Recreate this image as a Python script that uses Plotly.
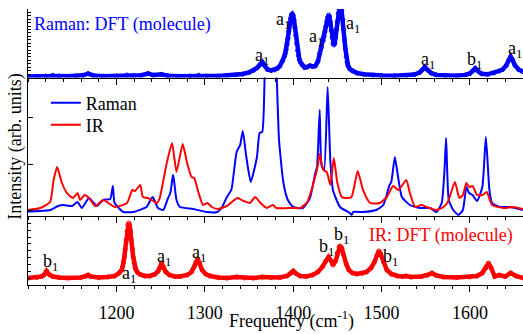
import plotly.graph_objects as go

# ---------------- data ----------------
# Top panel: Raman DFT (molecule)
raman_dft_freq = [1100, 1110, 1120, 1128, 1135, 1145, 1155, 1162, 1168, 1174, 1185, 1200, 1212, 1220, 1228,
                  1236, 1242, 1251, 1258, 1270, 1283, 1293, 1302, 1315, 1325, 1335, 1343, 1350, 1355, 1359,
                  1362, 1365, 1368, 1371, 1375, 1379, 1382, 1385, 1388, 1390, 1391, 1392, 1393, 1394, 1395,
                  1396, 1397, 1398, 1399, 1400, 1401, 1402, 1403, 1404, 1405, 1406, 1407, 1408, 1410, 1413,
                  1416, 1419, 1422, 1425, 1428, 1430, 1432, 1434, 1435, 1436, 1437, 1438, 1439, 1440, 1441,
                  1442, 1443, 1444, 1445, 1446, 1447, 1448, 1449, 1450, 1451, 1452, 1453, 1454, 1455, 1456,
                  1457, 1458, 1459, 1460, 1461, 1462, 1464, 1467, 1472, 1480, 1490, 1500, 1515, 1528, 1537,
                  1543, 1546, 1549, 1552, 1556, 1562, 1572, 1585, 1595, 1600, 1603, 1606, 1609, 1613, 1620,
                  1627, 1633, 1637, 1641, 1644, 1646, 1648, 1651, 1655, 1660]
raman_dft_int = [1.0, 1.2, 1.5, 2.2, 1.4, 1.2, 1.4, 2.2, 3.8, 2.0, 1.3, 1.5, 2.5, 1.6, 2.2,
                 4.0, 2.4, 3.2, 1.8, 1.3, 1.5, 2.3, 1.4, 1.5, 2.0, 2.6, 3.5, 5.0, 7.0, 9.5,
                 12.5, 15.5, 11.5, 8.0, 7.0, 7.5, 9.0, 11.5, 16.5, 21, 24, 28, 33, 39, 46,
                 53, 59, 62.5, 63.5, 62, 57, 50, 42, 34, 27, 22, 18, 15.5, 12.5, 10.0,
                 10.5, 11.8, 11.0, 11.5, 16, 24, 30, 37, 41, 46, 51, 56, 60, 62.5, 61,
                 55, 47, 40, 34, 32.5, 34, 40, 48, 56, 64, 70, 74, 74, 67, 58,
                 48, 38, 29, 21, 15.5, 12, 8.5, 6.5, 4.5, 3.2, 2.4, 1.9, 1.7, 2.0, 3.0,
                 5.0, 7.5, 10.5, 7.5, 4.5, 2.6, 1.8, 1.8, 2.6, 4.0, 6.5, 9.2, 6.5, 3.8, 3.2,
                 4.5, 6.5, 8.0, 12, 17.5, 20.8, 18, 12, 8.0, 5.8]

# Middle panel: experimental Raman
raman_freq = [1100, 1125, 1134, 1140, 1150, 1156, 1161, 1169, 1178, 1185, 1193, 1196, 1198, 1208, 1219,
              1234, 1241, 1247, 1253, 1258, 1261, 1263, 1264, 1265, 1268, 1272, 1287, 1302, 1314, 1319,
              1325, 1330, 1336, 1340, 1343, 1347, 1352, 1359, 1362, 1365, 1368, 1372, 1378, 1381, 1384,
              1389, 1394, 1400, 1411, 1419, 1425, 1427, 1430, 1432, 1435, 1439, 1442, 1445, 1453, 1464,
              1466, 1468, 1479, 1494, 1502, 1509, 1511, 1515, 1518, 1523, 1532, 1543, 1555, 1562, 1568,
              1571, 1573, 1576, 1581, 1587, 1592, 1596, 1599, 1603, 1608, 1614, 1618, 1622, 1625, 1634,
              1645, 1660]
raman_int = [-0.5, 1, 5, 6, 5, 9, 3, 13, 5, 11, 12, 25, 8, -1, -1,
             4, 14, 3, 1, 12, 18, 30, 36, 32, 11, 4, 2, -1, -1, 3,
             14, 21, 59, 66, 80, 54, 29, 54, 78, 79, 145, 200, 200, 145, 71,
             28, 11, 4, 3, 13, 38, 44, 101, 46, 41, 124, 51, 21, 4, -2,
             -4, -1, -1, 1, 6, 26, 29, 54, 38, 14, 6, 3, 3, -1, 8,
             38, 73, 11, 1, -4, 1, 24, 18, 16, 10, 24, 74, 21, 8, 4,
             4, 1]

# Middle panel: experimental IR
ir_freq = [1100, 1114, 1125, 1129, 1133, 1138, 1144, 1151, 1156, 1159, 1164, 1169, 1176, 1185, 1191,
           1198, 1212, 1218, 1221, 1227, 1230, 1236, 1246, 1249, 1257, 1263, 1268, 1275, 1280, 1285,
           1288, 1293, 1298, 1303, 1308, 1315, 1325, 1337, 1344, 1351, 1357, 1362, 1370, 1377, 1381,
           1400, 1408, 1416, 1423, 1428, 1430, 1434, 1438, 1442, 1446, 1450, 1455, 1460, 1466, 1473,
           1479, 1487, 1498, 1506, 1513, 1519, 1528, 1532, 1538, 1545, 1551, 1562, 1570, 1575, 1583,
           1588, 1592, 1596, 1599, 1603, 1608, 1614, 1619, 1625, 1638, 1649, 1660]
ir_int = [1, 3, 9, 31, 44, 29, 18, 13, 18, 11, 16, 13, 5, 11, 8,
          4, 8, 21, 20, 26, 14, 13, 8, 13, 48, 68, 39, 67, 48, 34,
          33, 18, 6, 8, 4, 2, 5, 13, 10, 8, 14, 9, 3, 6, 3,
          3, 3, 9, 28, 46, 57, 41, 39, 26, 53, 28, 14, 13, 14, 40,
          21, 8, 8, 14, 25, 21, 31, 18, 4, 6, 4, 1, 4, 9, 29,
          13, 16, 28, 24, 25, 16, 16, 19, 6, 3, 4, 2]

# Bottom panel: IR DFT (molecule)
ir_dft_freq = [1100, 1110, 1115, 1118, 1121, 1124, 1128, 1135, 1145, 1160, 1165, 1168, 1171, 1180, 1190,
               1198, 1203, 1206, 1207, 1208, 1209, 1210, 1211, 1212, 1213, 1214, 1215, 1216, 1217, 1218,
               1219, 1220, 1221, 1222, 1224, 1227, 1232, 1238, 1243, 1247, 1249, 1251, 1253, 1256, 1260,
               1266, 1272, 1280, 1285, 1288, 1290, 1292, 1294, 1297, 1301, 1306, 1315, 1325, 1336, 1345,
               1355, 1365, 1375, 1385, 1393, 1397, 1400, 1403, 1408, 1415, 1422, 1428, 1433, 1437, 1440,
               1443, 1445, 1448, 1450, 1452, 1453, 1455, 1457, 1460, 1463, 1467, 1472, 1478, 1483, 1488,
               1492, 1495, 1497, 1499, 1502, 1506, 1511, 1518, 1524, 1528, 1533, 1545, 1552, 1557, 1562,
               1570, 1585, 1600, 1608, 1614, 1618, 1621, 1624, 1628, 1633, 1640, 1646, 1652, 1660]
ir_dft_int = [7, 7.5, 8.5, 10, 14, 10.5, 8.5, 7.5, 7, 7.5, 8.5, 10, 8.5, 7.5, 8,
              9, 12, 15, 18, 22, 28, 36, 45, 54, 60, 62, 60, 54, 45, 36,
              28, 22, 18, 15.5, 12.5, 10.5, 9, 9, 10.5, 13.5, 17, 22, 18, 13, 10,
              8.5, 8.5, 10, 13, 18, 23, 26, 22, 15, 11, 9, 7.5, 7, 8, 7,
              7, 8, 7.2, 7.5, 9, 11.5, 14, 11.5, 9, 8.5, 10, 13, 18, 24, 28,
              24, 20, 24, 32, 38, 39, 37, 30, 21, 15, 12, 11, 11.5, 13, 17,
              23, 30, 34, 31, 23, 15, 11, 9, 8.5, 9, 8, 8.5, 10, 12, 9.5,
              8, 7.5, 8, 9, 12, 17, 22, 17, 8.5, 10, 8.5, 12, 9, 7]

tick_values = [1200, 1300, 1400, 1500, 1600]

# mode labels: (text, frequency, intensity)
top_labels = [("a<sub>1</sub>", 1365, 21.5), ("a<sub>1</sub>", 1388.5, 57.5), ("a<sub>1</sub>", 1426, 40),
              ("a<sub>1</sub>", 1468, 53), ("a<sub>1</sub>", 1552.5, 17.5), ("b<sub>1</sub>", 1605.5, 17.5),
              ("a<sub>1</sub>", 1651, 28)]
bottom_labels = [("b<sub>1</sub>", 1125.5, 22.5), ("a<sub>1</sub>", 1213.7, 10.5), ("a<sub>1</sub>", 1253.3, 27.5),
                 ("a<sub>1</sub>", 1294, 31), ("b<sub>1</sub>", 1437.7, 37.5), ("b<sub>1</sub>", 1455.2, 49.5),
                 ("b<sub>1</sub>", 1510.6, 27.5)]

# ---------------- figure ----------------
FONT = "Liberation Serif, Times New Roman, serif"
BLUE = "#0000FF"
RED = "#FF0000"

fig = go.Figure()

fig.add_trace(go.Scatter(x=raman_dft_freq, y=raman_dft_int, xaxis="x3", yaxis="y3",
                         mode="lines+markers", line=dict(color=BLUE, width=4.5),
                         marker=dict(symbol="circle-open", size=4, color=BLUE, line=dict(width=1, color=BLUE)),
                         showlegend=False))
fig.add_trace(go.Scatter(x=raman_freq, y=raman_int, xaxis="x2", yaxis="y2", name="Raman", legend="legend",
                         mode="lines", line=dict(color=BLUE, width=2, shape="spline", smoothing=0.5)))
fig.add_trace(go.Scatter(x=ir_freq, y=ir_int, xaxis="x2", yaxis="y2", name="IR", legend="legend2",
                         mode="lines", line=dict(color=RED, width=2, shape="spline", smoothing=0.5)))
fig.add_trace(go.Scatter(x=ir_dft_freq, y=ir_dft_int, xaxis="x", yaxis="y",
                         mode="lines+markers", line=dict(color=RED, width=4.5),
                         marker=dict(symbol="circle-open", size=4, color=RED, line=dict(width=1, color=RED)),
                         showlegend=False))

xcommon = dict(range=[1100, 1660], tickmode="array", tickvals=tick_values, ticklen=6, tickwidth=1,
               tickcolor="black", showline=True, linecolor="black", linewidth=1, showgrid=False,
               zeroline=False, minor=dict(tick0=1100, dtick=20, ticklen=3, tickcolor="black", showgrid=False))

legend_common = dict(xanchor="left", yanchor="middle", bgcolor="rgba(0,0,0,0)",
                     font=dict(family=FONT, size=18), itemwidth=30, borderwidth=0)

fig.update_layout(
    width=523, height=334,
    margin=dict(l=28, r=0, t=9, b=49),
    paper_bgcolor="white", plot_bgcolor="white",
    font=dict(family=FONT, size=18, color="black"),
    xaxis=dict(xcommon, anchor="y", ticks="outside", minor_ticks="outside", showticklabels=True,
               ticklabelstandoff=5, tickfont=dict(family=FONT, size=18, color="black")),
    xaxis2=dict(xcommon, anchor="y2", ticks="outside", minor_ticks="outside", showticklabels=False),
    xaxis3=dict(xcommon, anchor="y3", ticks="outside", minor_ticks="outside", showticklabels=False),
    xaxis4=dict(xcommon, anchor="y3", overlaying="x3", side="top", ticks="inside", minor_ticks="inside",
                showticklabels=False),
    yaxis=dict(domain=[0, 0.2482], range=[0, 68.5], tick0=0, dtick=6.85, ticks="inside", ticklen=3,
               tickcolor="black", showticklabels=False, showline=True, linecolor="black", linewidth=1,
               showgrid=False, zeroline=False),
    yaxis2=dict(domain=[0.2482, 0.7518], range=[-5.5, 133.5], tickmode="array", tickvals=[0, 47, 94],
                ticks="inside", ticklen=5, tickcolor="black", showticklabels=False, showline=True,
                linecolor="black", linewidth=1, showgrid=False, zeroline=False),
    yaxis3=dict(domain=[0.7518, 1], range=[0, 68.5], tick0=0, dtick=3.425, ticks="inside", ticklen=3,
                tickcolor="black", showticklabels=False, showline=True, linecolor="black", linewidth=1,
                showgrid=False, zeroline=False),
    legend=dict(legend_common, x=0.036, y=(285 - 103) / 276),
    legend2=dict(legend_common, x=0.036, y=(285 - 125) / 276),
)

anns = []
for t, fx, fy in top_labels:
    anns.append(dict(text=t, x=fx, y=fy, xref="x3", yref="y3", showarrow=False,
                     xanchor="center", yanchor="middle",
                     font=dict(family=FONT, size=18, color="black")))
for t, fx, fy in bottom_labels:
    anns.append(dict(text=t, x=fx, y=fy, xref="x", yref="y", showarrow=False,
                     xanchor="center", yanchor="middle",
                     font=dict(family=FONT, size=18, color="black")))
anns.append(dict(text="Raman: DFT (molecule)", x=1206.9, y=53, xref="x3", yref="y3", showarrow=False,
                 xanchor="center", yanchor="middle", font=dict(family=FONT, size=18, color=BLUE)))
anns.append(dict(text="IR: DFT (molecule)", x=1567, y=49.5, xref="x", yref="y", showarrow=False,
                 xanchor="center", yanchor="middle", font=dict(family=FONT, size=18, color=RED)))
anns.append(dict(text="Intensity (arb. units)", x=-0.027, y=0.5, xref="paper", yref="paper",
                 xanchor="center", yanchor="middle",
                 textangle=-90, showarrow=False, font=dict(family=FONT, size=18, color="black")))
anns.append(dict(text="Frequency (cm<sup>-1</sup>)", x=0.533, y=-0.128, xref="paper", yref="paper",
                 xanchor="center", yanchor="middle",
                 showarrow=False, font=dict(family=FONT, size=18, color="black")))
fig.update_layout(annotations=anns)

fig.write_html("out.html")
